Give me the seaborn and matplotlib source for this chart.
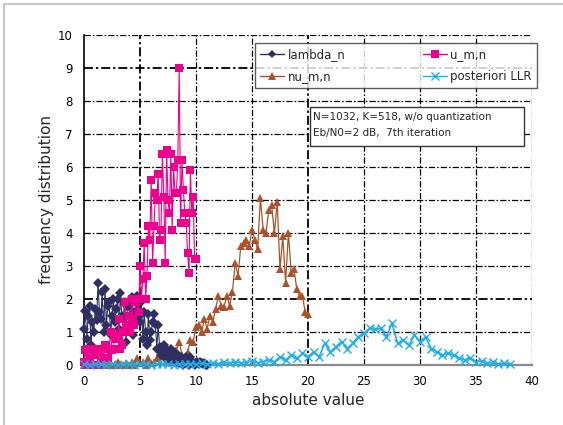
import numpy as np
import pandas as pd
import seaborn as sns
import matplotlib
matplotlib.use("Agg")
import matplotlib.pyplot as plt
from matplotlib.lines import Line2D
from matplotlib.patches import Rectangle

# ---- data -------------------------------------------------------------
lambda_step = 0.125
lambda_n = [1.1, 1.65, 0.8, 1.5, 1.8, 0.6, 1.3, 1.0,
            1.7, 1.35, 2.5, 1.6, 1.4, 2.2, 1.0, 2.3,
            1.2, 1.8, 1.9, 0.9, 1.5, 2.0, 1.3, 1.7,
            2.0, 1.1, 2.17, 1.5, 1.4, 1.9, 0.7, 1.8,
            1.8, 1.2, 2.07, 0.9, 1.6, 1.3, 2.1, 1.5,
            1.3, 1.9, 0.8, 1.6, 1.0, 0.6, 1.55, 0.76,
            1.0, 1.3, 1.55, 1.24, 0.5, 1.2, 0.55, 0.3,
            0.4, 0.6, 0.2, 0.45, 0.3, 0.1, 0.5, 0.35,
            0.2, 0.35, 0.1, 0.3, 0.05, 0.25, 0.15, 0.0,
            0.05, 0.25, 0.1, 0.0, 0.25, 0.05, 0.1, 0.0,
            0.05, 0.08, 0.03, 0.1, 0.05, 0.02, 0.05, 0.0,
            0.0]

u_step = 0.125
u_mn = [0.1, 0.45, 0.0, 0.5, 0.2, 0.0, 0.5, 0.3,
        0.3, 0.5, 0.0, 0.45, 0.1, 0.5, 0.2, 0.6,
        0.6, 0.2, 0.5, 1.0, 0.45, 0.5, 0.9, 0.8,
        0.8, 1.4, 0.5, 0.6, 1.0, 1.9, 1.2, 1.0,
        1.5, 1.0, 2.0, 1.4, 1.2, 1.9, 2.0, 1.6,
        3.0, 2.0, 2.6, 3.7, 2.0, 2.7, 4.2, 3.8,
        5.6, 3.1, 4.2, 5.2, 5.0, 5.8, 3.8, 4.1,
        6.4, 5.1, 3.1, 6.5, 5.0, 4.6, 6.4, 4.1,
        6.0, 5.2, 5.2, 6.2, 9.0, 4.3, 6.2, 5.3,
        4.6, 4.3, 3.4, 2.8, 5.9, 4.6, 5.1, 3.2,
        3.2]

nu_step = 0.25
nu_mn = [0.0, 0.0, 0.05, 0.0, 0.0, 0.05, 0.0, 0.0, 0.0, 0.05, 0.0, 0.0,
         0.1, 0.0, 0.0, 0.05, 0.0, 0.1, 0.0, 0.2, 0.05, 0.1, 0.0, 0.2,
         0.05, 0.1, 0.2, 0.1, 0.3, 0.5, 0.2, 0.3, 0.1, 0.45, 0.7, 0.3,
         0.25, 0.4, 0.75, 0.7, 1.15, 1.2, 1.0, 1.4, 1.1, 1.5, 1.3, 1.7,
         2.1, 1.8, 1.75, 2.1, 1.8, 2.2, 3.1, 2.7, 3.6, 3.7, 3.8, 3.6,
         4.1, 3.8, 3.5, 5.05, 4.1, 4.0, 4.7, 4.85, 4.0, 4.95, 2.9, 3.9,
         2.5, 4.0, 2.8, 2.9, 2.3, 2.1, 2.1, 1.6, 1.55]

post_step = 0.5
posteriori_llr = [0.02, 0.01, 0.03, 0.02, 0.0, 0.03, 0.01, 0.02, 0.03, 0.01,
                  0.02, 0.03, 0.01, 0.02, 0.03, 0.02, 0.01, 0.03, 0.02, 0.04,
                  0.03, 0.05, 0.03, 0.06, 0.04, 0.08, 0.05, 0.1, 0.06, 0.08,
                  0.12, 0.07, 0.1, 0.15, 0.1, 0.25, 0.15, 0.3, 0.2, 0.35,
                  0.25, 0.4, 0.25, 0.66, 0.4, 0.55, 0.71, 0.5, 0.66, 0.86,
                  0.96, 1.11, 1.08, 1.11, 0.86, 1.26, 0.66, 0.76, 0.6, 0.91,
                  0.71, 0.85, 0.5, 0.4, 0.3, 0.35, 0.3, 0.2, 0.15, 0.2,
                  0.1, 0.12, 0.05, 0.08, 0.02, 0.05, 0.03]

series_labels = ["lambda_n", "u_m,n", "nu_m,n", "posteriori LLR"]
note_lines = ["N=1032, K=518, w/o quantization", "Eb/N0=2 dB,  7th iteration"]


def frame(values, step, name):
    vals = np.asarray(values, dtype=float)
    return pd.DataFrame({"x": np.arange(len(vals)) * step, "y": vals, "series": name})


df = pd.concat([
    frame(lambda_n, lambda_step, series_labels[0]),
    frame(u_mn, u_step, series_labels[1]),
    frame(nu_mn, nu_step, series_labels[2]),
    frame(posteriori_llr, post_step, series_labels[3]),
], ignore_index=True)

# ---- styling ------------------------------------------------------------
sns.set_style("white")
plt.rcParams["font.family"] = ["DejaVu Sans"]

W, H = 563, 425
fig = plt.figure(figsize=(W / 100, H / 100), dpi=100)
ax = fig.add_axes([84 / W, 1 - 365 / H, (532 - 84) / W, (365 - 35) / H])

styles = {
    "lambda_n":       dict(color="#2f2f63", marker="D", ms=5.0, mew=0.0, lw=0.8),
    "u_m,n":          dict(color="#ec008c", marker="s", ms=5.8, mew=0.0, lw=0.8),
    "nu_m,n":         dict(color="#a8532c", marker="^", ms=6.2, mew=0.0, lw=0.9),
    "posteriori LLR": dict(color="#1eaee8", marker="x", ms=6.0, mew=1.0, lw=1.2),
}

# draw order: posteriori LLR last so its crosses sit on top along the baseline
for name in ["nu_m,n", "lambda_n", "u_m,n", "posteriori LLR"]:
    st = styles[name]
    sub = df[df["series"] == name]
    sns.lineplot(data=sub, x="x", y="y", ax=ax, color=st["color"], lw=st["lw"],
                 marker=st["marker"], markersize=st["ms"], markeredgewidth=st["mew"],
                 markeredgecolor=st["color"], estimator=None, sort=False,
                 legend=False, zorder=3, clip_on=False)

ax.set_xlim(0, 40)
ax.set_ylim(0, 10)
ax.set_xticks(range(0, 41, 5))
ax.set_yticks(range(0, 11))
ax.tick_params(axis="both", direction="in", length=4, width=1, labelsize=8.5,
               colors="black")
ax.tick_params(axis="y", pad=8)
ax.tick_params(axis="x", pad=7)
ax.set_xlabel("absolute value", fontsize=11, labelpad=4)
ax.set_ylabel("frequency distribution", fontsize=11, labelpad=3)

# dash-dot grid
dash = (0, (5, 1.6, 1.3, 1.6))
for yv in range(1, 11):
    ax.axhline(yv, color="black", lw=1.3 if yv in (2, 9) else 0.9, ls=dash, zorder=1)
for xv in range(5, 41, 5):
    ax.axvline(xv, color="black", lw=1.3 if xv in (5, 20) else 0.9, ls=dash, zorder=1)

for side in ("top", "right"):
    ax.spines[side].set_visible(False)
ax.spines["left"].set_color("black")
ax.spines["left"].set_linewidth(1.2)
ax.spines["bottom"].set_color("#8a8a8a")
ax.spines["bottom"].set_linewidth(1.6)

# legend
handles = []
for name in ["lambda_n", "nu_m,n", "u_m,n", "posteriori LLR"]:
    st = styles[name]
    handles.append(Line2D([], [], color=st["color"], lw=1.0, marker=st["marker"],
                          markersize=st["ms"] - 0.5, markeredgewidth=st["mew"],
                          markeredgecolor=st["color"], label=name))
leg = fig.legend(handles=handles, ncol=2, loc="lower left",
                 bbox_to_anchor=(255 / W, 1 - 88 / H, (537 - 255) / W, (88 - 45) / H),
                 mode="expand", fontsize=8.5, frameon=True, fancybox=False,
                 edgecolor="#333333", handlelength=2.0, handletextpad=0.3,
                 borderpad=0.45, labelspacing=0.75, borderaxespad=0.0,
                 columnspacing=1.0)
leg.get_frame().set_linewidth(1.0)

# annotation box
fig.patches.append(Rectangle((310 / W, 1 - 146 / H), (524 - 310) / W, (146 - 107) / H,
                             transform=fig.transFigure, facecolor="white",
                             edgecolor="#333333", lw=1.0, zorder=5))
fig.text(313 / W, 1 - 117 / H, note_lines[0], fontsize=7.5, va="center", ha="left", zorder=6)
fig.text(313 / W, 1 - 133 / H, note_lines[1], fontsize=7.5, va="center", ha="left", zorder=6)

# light frame around the figure
fig.lines.append(Line2D([4 / W, 4 / W], [0, 1 - 4 / H], transform=fig.transFigure,
                        color="#c8c8c8", lw=1.6))
fig.lines.append(Line2D([4 / W, 1], [1 - 4 / H, 1 - 4 / H], transform=fig.transFigure,
                        color="#c8c8c8", lw=1.6))

fig.savefig("out.png", dpi=100)
